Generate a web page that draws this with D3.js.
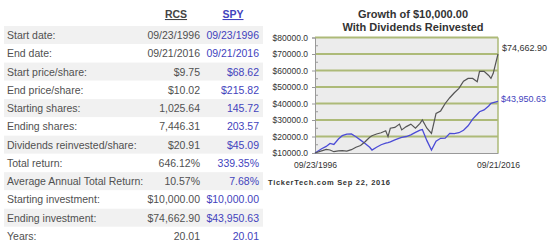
<!DOCTYPE html>
<html>
	<head>
		<title>RCS vs SPY growth of $10,000</title>
		<style type="text/css">
			body{
				margin: 0;
				background: #ffffff;
			}
			svg{
				display: block;
				font-family: "Liberation Sans", Arial, sans-serif;
			}
		</style>
	</head>
	<body>
		<div id="board"></div>

	<script type="text/javascript" src="https://cdnjs.cloudflare.com/ajax/libs/d3/7.8.5/d3.min.js"></script>
	<script>
		// table
		var rowLabels = ['Start date:','End date:','Start price/share:','End price/share:','Starting shares:','Ending shares:',
			'Dividends reinvested/share:','Total return:','Average Annual Total Return:','Starting investment:','Ending investment:','Years:'];
		var rcsColumn = ['09/23/1996','09/21/2016','$9.75','$10.02','1,025.64','7,446.31','$20.91','646.12%','10.57%','$10,000.00','$74,662.90','20.01'];
		var spyColumn = ['09/23/1996','09/21/2016','$68.62','$215.82','145.72','203.57','$45.09','339.35%','7.68%','$10,000.00','$43,950.63','20.01'];

		// chart series
		var dates = ['1996-09-23','1997-06-15','1997-12-15','1998-05-15','1998-10-15','1999-04-15','1999-09-15','2000-03-15','2000-09-15',
			'2001-03-15','2001-09-15','2002-03-15','2002-09-15','2002-12-15','2003-06-15','2003-12-15','2004-06-15','2004-09-15','2004-12-15',
			'2005-06-15','2005-12-15','2006-03-15','2006-09-15','2007-03-15','2007-09-15','2008-03-15','2008-06-15','2008-12-15','2009-06-15',
			'2009-12-15','2010-06-15','2010-12-15','2011-06-15','2011-12-15','2012-06-15','2012-12-15','2013-06-15','2013-12-15','2014-06-15',
			'2014-09-15','2015-03-15','2015-09-15','2015-12-15','2016-03-15','2016-09-21'];
		var rcsValues = [10000,11300,12200,11800,10800,11300,11400,11200,12000,
			13500,14500,16800,19500,20500,21500,22300,23500,19900,25000,
			25500,27500,24000,26000,27500,25000,28000,30000,25000,21900,
			34000,35500,40000,43500,46500,49200,53500,55200,55200,53200,
			59500,59500,57000,55200,58300,70000];
		var spyValues = [10000,12600,14000,15800,15200,18500,20500,21500,21600,
			19800,17800,15800,13500,11800,13500,15000,16000,16300,16800,
			18000,19000,19500,20000,21000,22500,23900,24200,17500,11800,
			17200,18900,19000,21900,21800,22300,23800,26500,30500,33500,
			35000,36100,38500,40100,40500,41300];
		var yTicks = [10000,20000,30000,40000,50000,60000,70000,80000];
		var minorTicks = [15000,25000,35000,45000,55000,65000,75000];
		var titleLines = ['Growth of $10,000.00','With Dividends Reinvested'];
		var endLabels = ['$74,662.90','$43,950.63'];

		var parse = d3.timeParse('%Y-%m-%d');
		var fmt = d3.timeFormat('%m/%d/%Y');
		var rcs = dates.map(function(d,i){ return { date: parse(d), v: rcsValues[i] }; });
		var spy = dates.map(function(d,i){ return { date: parse(d), v: spyValues[i] }; });

		var svg = d3.select('#board').append('svg')
				.attr('width',550).attr('height',250);

		// ---- table ----
		var labelGray = '#505050', blue = '#4343bd';
		var rowY = d3.scaleLinear().domain([0,11]).range([39,240]);

		svg.selectAll('.band')
			.data(rowLabels.filter(function(d,i){ return i % 2 == 0; }))
			.enter().append('rect')
			.attr('class','band')
			.attr('x',4).attr('width',259)
			.attr('y',function(d,i){ return rowY(i*2) - 13; })
			.attr('height',18)
			.style('fill','#f1f1f1');

		var head = svg.append('g').style('font-size','10.5px').style('font-weight','bold').attr('text-anchor','middle');
		head.append('text').attr('x',176).attr('y',18).style('fill','#444').style('text-decoration','underline').text('RCS');
		head.append('text').attr('x',233).attr('y',18).style('fill',blue).style('text-decoration','underline').text('SPY');

		var rows = svg.append('g').style('font-size','10.5px');
		rows.selectAll('.lab').data(rowLabels).enter().append('text')
			.attr('class','lab').attr('x',7).attr('y',function(d,i){ return rowY(i); })
			.style('fill',labelGray).text(function(d){ return d; });
		rows.selectAll('.rcs').data(rcsColumn).enter().append('text')
			.attr('class','rcs').attr('x',200).attr('y',function(d,i){ return rowY(i); })
			.attr('text-anchor','end').style('fill',labelGray).text(function(d){ return d; });
		rows.selectAll('.spy').data(spyColumn).enter().append('text')
			.attr('class','spy').attr('x',259).attr('y',function(d,i){ return rowY(i); })
			.attr('text-anchor','end').style('fill',blue).text(function(d){ return d; });

		// ---- chart ----
		var x = d3.scaleTime().domain([rcs[0].date, rcs[rcs.length-1].date]).range([315,498]);
		var y = d3.scaleLinear().domain([10000,80000]).range([153,37.5]);

		svg.append('rect')
			.attr('x',x.range()[0]).attr('y',y(80000))
			.attr('width',x.range()[1]-x.range()[0]).attr('height',y(10000)-y(80000))
			.style('fill','#ececec');

		svg.selectAll('.grid')
			.data(yTicks.slice(1))
			.enter().append('line')
			.attr('class','grid')
			.attr('x1',x.range()[0]).attr('x2',x.range()[1])
			.attr('y1',function(d){ return y(d); }).attr('y2',function(d){ return y(d); })
			.style('stroke','#adba78').style('stroke-width',1.8);

		svg.append('line')
			.attr('x1',x.range()[1]).attr('x2',x.range()[1])
			.attr('y1',y(80000)).attr('y2',y(10000))
			.style('stroke','#adba78').style('stroke-width',1.5);

		svg.selectAll('.minor')
			.data(minorTicks)
			.enter().append('line')
			.attr('class','minor')
			.attr('x1',x.range()[0]).attr('x2',x.range()[0]+3)
			.attr('y1',function(d){ return y(d); }).attr('y2',function(d){ return y(d); })
			.style('stroke','#999');

		// axes
		var yAxis = svg.append('g')
			.attr('transform','translate(' + x.range()[0] + ',0)')
			.call(d3.axisLeft(y).tickValues(yTicks).tickSize(3).tickPadding(4)
				.tickFormat(function(d){ return '$' + d.toFixed(1); }));
		yAxis.select('.domain').style('stroke','#999');
		yAxis.selectAll('line').style('stroke','#999');
		yAxis.selectAll('text').style('font-family','"Liberation Sans", Arial, sans-serif').style('font-size','8.5px').style('fill','#333');

		var xAxis = svg.append('g')
			.attr('transform','translate(0,' + y(10000) + ')')
			.call(d3.axisBottom(x).tickValues(x.domain()).tickSize(0).tickPadding(9).tickFormat(fmt));
		xAxis.select('.domain').style('stroke','#999');
		xAxis.selectAll('text').style('font-family','"Liberation Sans", Arial, sans-serif').style('font-size','8.6px').style('fill','#333');

		// lines
		var line = d3.line()
			.x(function(d){ return x(d.date); })
			.y(function(d){ return y(d.v); });

		svg.append('path').datum(spy).attr('d',line)
			.style('fill','none').style('stroke','#4b4bd6').style('stroke-width',1.3);
		svg.append('path').datum(rcs).attr('d',line)
			.style('fill','none').style('stroke','#555').style('stroke-width',1.2);

		// end value labels
		svg.append('text').attr('x',502).attr('y',51).style('font-size','9px').style('fill','#333').text(endLabels[0]);
		svg.append('text').attr('x',501).attr('y',102).style('font-size','9px').style('fill',blue).text(endLabels[1]);

		// title
		svg.selectAll('.title')
			.data(titleLines)
			.enter().append('text')
			.attr('class','title')
			.attr('x',413).attr('y',function(d,i){ return 18 + i*13; })
			.attr('text-anchor','middle')
			.style('font-size','11px').style('font-weight','bold').style('fill','#333')
			.text(function(d){ return d; });

		svg.append('text')
			.attr('x',268).attr('y',185)
			.attr('textLength',122)
			.style('font-size','7.5px').style('font-weight','bold').style('fill','#333')
			.text('TickerTech.com  Sep 22, 2016');
	</script>
	</body>
</html>
